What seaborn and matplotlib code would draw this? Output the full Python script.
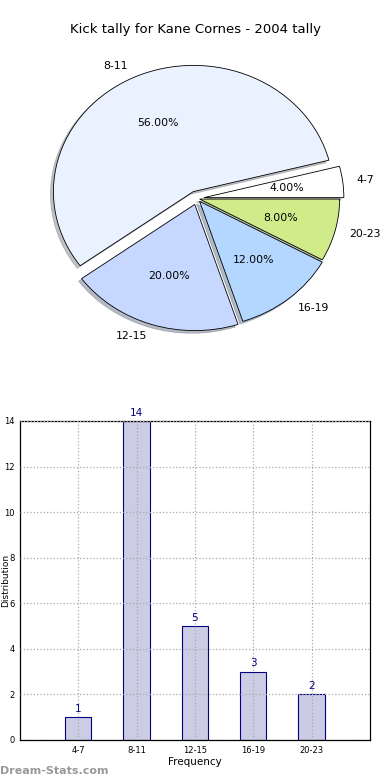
import matplotlib
matplotlib.use("Agg")
import matplotlib.pyplot as plt
import seaborn as sns
import numpy as np

### DATA ###
tally_bins = ["4-7", "8-11", "12-15", "16-19", "20-23"]
kick_counts = [1, 14, 5, 3, 2]
pie_colours = ["#ffffff", "#eaf1ff", "#c6d8ff", "#b3d7ff", "#cfeb8a"]
pie_explode = [0.05, 0.06, 0.05, 0.03, 0.02]

sns.set_theme(style="white")
plt.rcParams['font.family'] = ['DejaVu Sans']
plt.rcParams['text.color'] = 'black'
plt.rcParams['axes.labelcolor'] = 'black'
plt.rcParams['xtick.color'] = 'black'
plt.rcParams['ytick.color'] = 'black'

fig = plt.figure(figsize=(3.9, 7.8), dpi=100)
fig.text(0.5, 1 - 30 / 780, "Kick tally for Kane Cornes - 2004 tally",
         ha='center', va='center', fontsize=9.5)

### PIE ###
a0 = fig.add_axes([0.0385, 0.5256, 0.933, 0.44])
wedges, texts, autotexts = a0.pie(
    kick_counts, labels=tally_bins, colors=pie_colours, explode=pie_explode,
    autopct='%1.2f%%', shadow={'ox': -0.015, 'oy': -0.015, 'shade': 0.45},
    startangle=0,
    wedgeprops={'edgecolor': 'black', 'linewidth': 0.6},
    textprops={'fontsize': 7.8})
a0.set_aspect('auto')
a0.set_xlim(-1.3, 1.3)
a0.set_ylim(-1.36, 1.36)
a0.axis('off')

### BARS ###
a1 = fig.add_axes([0.0513, 0.0513, 0.897, 0.409])
sns.barplot(x=tally_bins, y=kick_counts, ax=a1, color="#ccccE5",
            edgecolor="navy", linewidth=0.8, width=0.45, saturation=1)
a1.set_xlim(-1, 5)
a1.set_ylim(0, 14)
a1.set_yticks(range(0, 15, 2))
a1.grid(True, linestyle=':', color='#aaaaaa', linewidth=0.9)
a1.set_axisbelow(False)
for s in a1.spines.values():
    s.set_color('black')
    s.set_linewidth(0.9)
a1.tick_params(axis='both', labelsize=6, length=2, pad=2)
a1.set_xlabel("Frequency", fontsize=7.5, labelpad=2)
a1.set_ylabel("Distribution", fontsize=6.5)
a1.yaxis.set_label_coords(-0.028, 0.5)
for i, v in enumerate(kick_counts):
    a1.text(i, v + 0.15, str(v), ha='center', va='bottom', fontsize=7.5, color='navy')

fig.text(0.0, 1 - 771 / 780, "Dream-Stats.com", ha='left', va='center',
         fontsize=8, color='#999999', fontweight='bold')

fig.savefig("out.png", dpi=100)
